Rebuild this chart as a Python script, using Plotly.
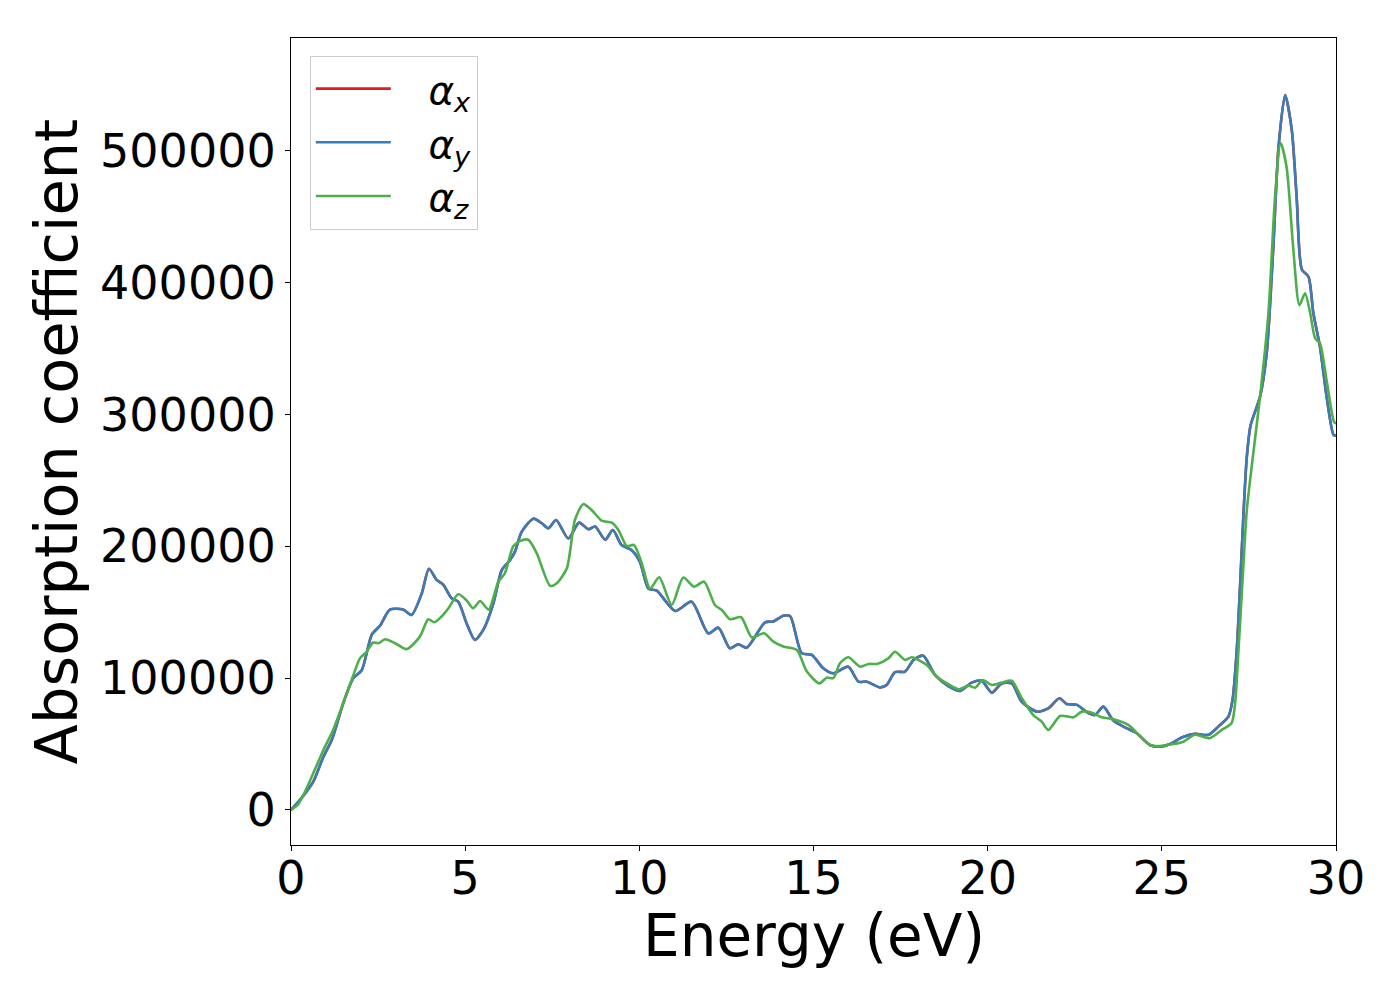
import plotly.graph_objects as go

# Energy grid (eV) and absorption (units of 1e3) for alpha_x / alpha_y (identical curves)
energy_xy = [0, 0.3, 0.64, 0.93, 1.17, 1.5, 1.79, 2.03, 2.32, 2.56, 2.84, 3.22, 3.46, 3.75, 3.96,
             4.18, 4.37, 4.61, 4.8, 5.04, 5.28, 5.52, 5.81, 6.05, 6.29, 6.43, 6.62, 6.96, 7.2, 7.39,
             7.61, 7.96, 8.27, 8.54, 8.73, 9.02, 9.24, 9.49, 9.78, 10.02, 10.26, 10.5, 11.03, 11.5,
             11.98, 12.27, 12.6, 12.84, 13.08, 13.61, 13.85, 14.13, 14.33, 14.66, 14.95, 15.28,
             15.57, 16.0, 16.29, 16.53, 16.91, 17.1, 17.34, 17.63, 17.87, 18.15, 18.49, 18.87,
             19.21, 19.54, 19.83, 20.12, 20.4, 20.69, 20.98, 21.41, 21.74, 22.06, 22.27, 22.56,
             22.89, 23.08, 23.32, 23.61, 23.99, 24.28, 24.66, 24.95, 25.24, 25.57, 25.95, 26.34,
             26.62, 26.91, 27.03, 27.15, 27.25, 27.34, 27.44, 27.55, 27.82, 28.01, 28.2, 28.35,
             28.54, 28.73, 28.87, 29.02, 29.21, 29.35, 29.54, 29.73, 29.93, 30.0]
alpha_xy_k = [0, 9, 21.5, 40.4, 53, 81, 100, 106, 133, 140, 152, 152, 148, 164, 183,
              174.5, 171, 160.6, 158, 141.7, 129, 136.6, 156.8, 182, 189.7, 196, 211, 221, 217.5, 213.7,
              220, 206, 218, 213, 215, 205, 212.4, 201, 197, 188, 168, 166.4, 151, 158,
              134, 138.3, 122.7, 125.7, 123, 142.4, 143, 147.4, 147, 119, 117.6, 107.5,
              103.7, 108.7, 97.3, 97.3, 93, 94.8, 104.5, 105, 113.8, 117, 102.4, 94,
              90.3, 96.6, 98, 89, 96, 96, 82, 74.6, 77, 84.7, 80.4, 79.7,
              73.4, 72, 78.4, 67.8, 62, 58.2, 49.3, 48, 50, 55, 57.7, 57,
              63.2, 70.8, 83.5, 121, 172, 222.5, 268, 292, 313.6, 346.5, 427, 503,
              542.5, 516, 465, 410, 404.6, 376.8, 351.5, 313.6, 284.5, 284]

# alpha_z
energy_z = [0, 0.2, 0.45, 0.93, 1.21, 1.74, 1.98, 2.17, 2.36, 2.51, 2.7, 2.99, 3.32, 3.7, 3.94,
            4.11, 4.33, 4.52, 4.8, 5.04, 5.23, 5.43, 5.67, 5.95, 6.14, 6.38, 6.57, 6.81, 7.05,
            7.44, 7.63, 7.92, 8.15, 8.39, 8.63, 8.92, 9.21, 9.4, 9.64, 9.85, 10.07, 10.31, 10.57,
            10.93, 11.26, 11.57, 11.86, 12.17, 12.37, 12.6, 12.92, 13.23, 13.58, 13.85, 14.13,
            14.52, 14.81, 15.17, 15.38, 15.57, 15.76, 16.0, 16.34, 16.58, 16.82, 17.15, 17.34,
            17.63, 17.82, 18.25, 18.54, 18.87, 19.16, 19.45, 19.64, 19.86, 20.12, 20.4, 20.69,
            20.98, 21.31, 21.55, 21.74, 22.08, 22.46, 22.7, 22.99, 23.28, 23.61, 24.04, 24.33,
            24.66, 24.95, 25.33, 25.62, 25.95, 26.38, 26.72, 27.0, 27.1, 27.2, 27.34, 27.44,
            27.6, 27.82, 28.06, 28.25, 28.41, 28.58, 28.77, 28.95, 29.11, 29.26, 29.4, 29.54,
            29.73, 29.94, 30.0]
alpha_z_k = [0, 4, 16.5, 45.5, 60.7, 98.6, 115, 120, 127, 126.5, 129.5, 126.5, 122, 131.5, 144.7,
             142.4, 147, 153, 163.6, 159, 153, 158.5, 152, 173, 179.6, 200, 204, 205, 195,
             170, 172, 183.4, 220, 232, 227.6, 219.5, 218, 212.4, 200.3, 201, 187, 168, 176.5,
             155.5, 176.3, 169.4, 173.2, 155.5, 151.7, 144.7, 146.2, 131, 134, 127.7, 124,
             121.4, 105, 96, 100.4, 100, 111.3, 115.8, 108.7, 110.8, 110.8, 115, 120,
             113.8, 115.8, 110, 101, 95.4, 91.6, 94.3, 92.8, 98.6, 94.8, 96.6, 98,
             84.7, 72, 67, 60.7, 71.3, 70.3, 74.6, 73.8, 70.3, 68.8, 64.5, 57,
             49.3, 48.5, 50, 51.8, 57, 54.4, 60.7, 65.8, 80, 121, 184.6, 227.6,
             265, 313.6, 376.8, 465, 506, 488, 427, 383, 392, 376.8, 358, 354,
             326, 294.6, 293]

assert len(energy_xy) == len(alpha_xy_k), (len(energy_xy), len(alpha_xy_k))
assert len(energy_z) == len(alpha_z_k), (len(energy_z), len(alpha_z_k))

alpha_xy = [v * 1000 for v in alpha_xy_k]
alpha_z = [v * 1000 for v in alpha_z_k]

x_ticks = [0, 5, 10, 15, 20, 25, 30]
y_ticks = [0, 100000, 200000, 300000, 400000, 500000]
x_title = "Energy (eV)"
y_title = "Absorption coefficient"

FONT = "DejaVu Sans"
colors = {"x": "#e41a1c", "y": "#377eb8", "z": "#4daf4a"}
SP = "&nbsp;&nbsp;&#8201;"

fig = go.Figure()
line_kw = dict(shape="spline", smoothing=0.7, width=2.6)
fig.add_trace(go.Scatter(x=energy_xy, y=alpha_xy, mode="lines", name=SP + "<i>α<sub>x</sub></i>",
                         line=dict(color=colors["x"], **line_kw)))
fig.add_trace(go.Scatter(x=energy_xy, y=alpha_xy, mode="lines", name=SP + "<i>α<sub>y</sub></i>",
                         line=dict(color=colors["y"], **line_kw)))
fig.add_trace(go.Scatter(x=energy_z, y=alpha_z, mode="lines", name=SP + "<i>α<sub>z</sub></i>",
                         line=dict(color=colors["z"], **line_kw)))

axis_common = dict(showgrid=False, zeroline=False, showline=True, linecolor="black", linewidth=1.2,
                   mirror=True, ticks="outside", ticklen=5, tickwidth=1.2, tickcolor="black",
                   automargin=False,
                   tickfont=dict(family=FONT, size=46, color="black"))

fig.update_xaxes(range=[0, 30], tickvals=x_ticks, ticktext=[str(t) for t in x_ticks],
                 ticklabelstandoff=-12, **axis_common)
fig.update_yaxes(range=[-26600, 585700], tickvals=y_ticks, ticktext=[str(t) for t in y_ticks],
                 **axis_common)

fig.update_layout(
    width=1392, height=992,
    margin=dict(l=283, r=64, t=30, b=155),
    paper_bgcolor="white", plot_bgcolor="white",
    font=dict(family=FONT, color="black"),
    legend=dict(x=0.018, y=0.978, xanchor="left", yanchor="top",
                bgcolor="rgba(255,255,255,0.8)", bordercolor="#cccccc", borderwidth=1,
                font=dict(family=FONT, size=39, color="black"),
                itemwidth=75, tracegroupgap=0),
    annotations=[
        dict(text=x_title, xref="paper", yref="paper", x=0.5, y=-0.1125,
             xanchor="center", yanchor="middle", showarrow=False,
             font=dict(family=FONT, size=58, color="black")),
        dict(text=y_title, xref="paper", yref="paper", x=-0.224, y=0.5,
             xanchor="center", yanchor="middle", showarrow=False, textangle=-90,
             font=dict(family=FONT, size=59, color="black")),
    ],
)

fig.write_html("out.html")
